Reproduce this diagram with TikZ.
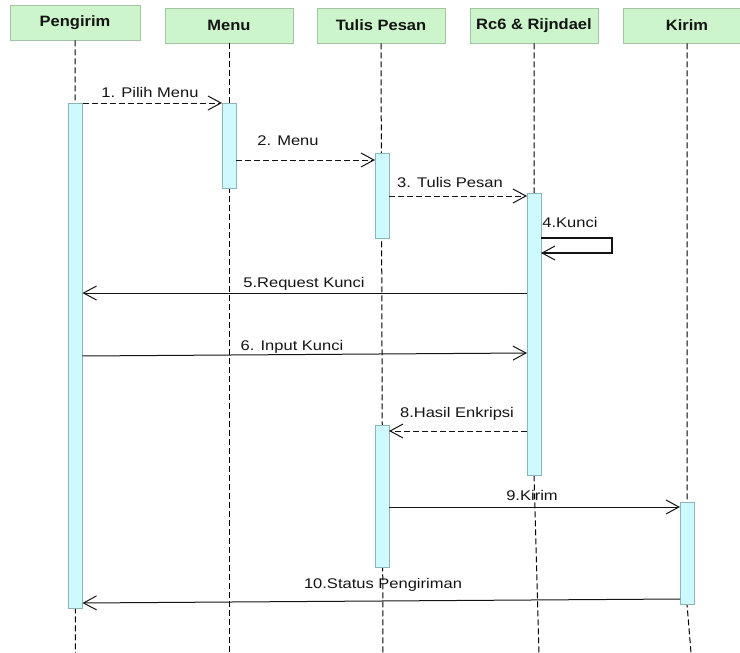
\documentclass[tikz,border=0pt]{standalone}
\usepackage{fontspec}
\usetikzlibrary{arrows.meta}
\newfontfamily\headfont[FakeStretch=1.1]{Liberation Sans}
\newfontfamily\labelfont[FakeStretch=1.18]{Liberation Sans}
\definecolor{headgreen}{RGB}{204,245,204}
\definecolor{headline}{RGB}{165,195,165}
\definecolor{barcyan}{RGB}{204,250,255}
\definecolor{barline}{RGB}{140,180,185}
\definecolor{inkgray}{RGB}{20,20,20}
\tikzset{
    header/.style={draw=headline, fill=headgreen, line width=0.8pt, minimum height=35pt, inner sep=0, font=\headfont\fontsize{15}{17}\selectfont\bfseries, text=inkgray},
    actbar/.style={draw=barline, fill=barcyan, line width=0.6pt, minimum width=14pt, inner sep=0, outer sep=0},
    lifeline/.style={black, line width=1pt, dash pattern=on 6pt off 3pt},
    msgtip/.style={-{Straight Barb[length=13pt,width=14pt,line width=1pt]}},
    msgsolid/.style={msgtip, inkgray, line width=1pt},
    msgdash/.style={msgtip, inkgray, line width=1pt, dash pattern=on 6pt off 3pt},
    msglabel/.style={anchor=base, inner sep=0, font=\labelfont\fontsize{14}{16}\selectfont, text=inkgray}
}
\begin{document}
\begin{tikzpicture}[x=1pt, y=-1pt]
        \useasboundingbox (0, 0) rectangle (740, 653);

        \node[header, minimum width=130pt] (pengirim) at (75, 22.5) {Pengirim};
        \node[header, minimum width=128pt] (menu) at (229, 25.5) {Menu};
        \node[header, minimum width=128pt] (tulis) at (381, 25.5) {Tulis Pesan};
        \node[header, minimum width=128pt] (rijndael) at (534, 25.5) {Rc6 \& Rijndael};
        \node[header, minimum width=128pt] (kirim) at (687, 25.5) {Kirim};

        \coordinate (endP) at (75.5, 653);
        \coordinate (endM) at (229, 653);
        \coordinate (endT) at (383, 653);
        \coordinate (endR) at (539, 653);
        \coordinate (endK) at (691, 653);

        \node[msglabel] (l1) at (150, 97) {1. Pilih Menu};
        \node[msglabel] (l2) at (288, 145) {2. Menu};
        \node[msglabel] (l3) at (450, 187) {3. Tulis Pesan};
        \node[msglabel] (l4) at (570, 227) {4.Kunci};
        \node[msglabel] (l5) at (304, 287) {5.Request Kunci};
        \node[msglabel] (l6) at (292, 350) {6. Input Kunci};
        \node[msglabel] (l8) at (457, 417) {8.Hasil Enkripsi};
        \node[msglabel] (l9) at (532, 500) {9.Kirim};
        \node[msglabel] (l10) at (383, 588) {10.Status Pengiriman};

        \draw[lifeline] (pengirim.south) -- (endP);
        \draw[lifeline] (menu.south) -- (endM);
        \draw[lifeline] (tulis.south) -- (endT);
        \draw[lifeline] (rijndael.south) -- (534, 475) -- (endR);
        \draw[lifeline] (kirim.south) -- (687, 604) -- (endK);

        \node[actbar, minimum height=505pt] (actP) at (75.5, 355.5) {};
        \node[actbar, minimum height=85pt] (actM) at (229, 145.5) {};
        \node[actbar, minimum height=85pt] (actT1) at (382, 195.5) {};
        \node[actbar, minimum height=142pt] (actT2) at (382, 496) {};
        \node[actbar, minimum height=282pt] (actR) at (534, 334) {};
        \node[actbar, minimum height=102pt] (actK) at (687, 553) {};

        \draw[msgdash] (actP.east |- 0, 103) -- (actM.west |- 0, 103);
        \draw[msgdash] (actM.east |- 0, 160) -- (actT1.west |- 0, 160);
        \draw[msgdash] (actT1.east |- 0, 196) -- (actR.west |- 0, 196);
        \draw[msgsolid, line width=1.4pt] (actR.east |- 0, 238) -- ++(71, 0) -- ++(0, 15) -- (actR.east |- 0, 253);
        \draw[msgsolid] (actR.west |- 0, 293) -- (actP.east |- 0, 293);
        \draw[msgsolid] (actP.east |- 0, 356) -- (actR.west |- 0, 353);
        \draw[msgdash] (actR.west |- 0, 431) -- (actT2.east |- 0, 431);
        \draw[msgsolid] (actT2.east |- 0, 507) -- (actK.west |- 0, 507);
        \draw[msgsolid] (actK.west |- 0, 599) -- (actP.east |- 0, 603);
    \end{tikzpicture}
\end{document}
